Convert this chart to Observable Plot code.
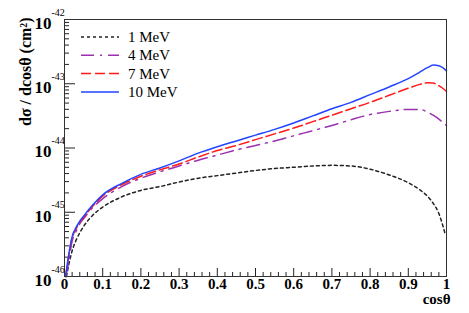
<!DOCTYPE html>
<html>
<head>
<meta charset="utf-8">
<script src="https://cdn.jsdelivr.net/npm/d3@7"></script>
<script src="https://cdn.jsdelivr.net/npm/@observablehq/plot@0.6"></script>
<style>
  html, body { margin: 0; padding: 0; background: #fff; }
  #wrap { position: relative; width: 469px; height: 313px; font-family: "Liberation Serif", serif; }
  #wrap svg text { font-family: "Liberation Serif", serif; }
  #legend { position: absolute; left: 0; top: 0; pointer-events: none; }
</style>
</head>
<body>
<div id="wrap"></div>
<script>
// cosθ sample points
const cosGrid = [0.003, 0.01, 0.02, 0.03, 0.04, 0.05, 0.075, 0.1, 0.15, 0.2, 0.25, 0.3, 0.35, 0.4, 0.45, 0.5, 0.55, 0.6, 0.65, 0.7, 0.75, 0.8, 0.85, 0.9, 0.93, 0.95, 0.965, 0.98, 0.99, 1.0];
const cosLow  = [0.005, 0.01, 0.02, 0.03, 0.04, 0.05, 0.075, 0.1, 0.15, 0.2, 0.25, 0.3, 0.35, 0.4, 0.45, 0.5, 0.55, 0.6, 0.65, 0.7, 0.75, 0.8, 0.85, 0.9, 0.93, 0.95, 0.965, 0.98, 0.99, 0.997];

// log10 of dσ/dcosθ (cm²)
const log10_10MeV = [-46, -45.7, -45.38, -45.24, -45.14, -45.06, -44.88, -44.73, -44.55, -44.41, -44.31, -44.2, -44.08, -43.98, -43.89, -43.8, -43.71, -43.61, -43.5, -43.39, -43.29, -43.17, -43.05, -42.92, -42.82, -42.75, -42.71, -42.72, -42.75, -42.8];
const log10_7MeV  = [-46, -45.72, -45.4, -45.26, -45.16, -45.08, -44.9, -44.75, -44.57, -44.44, -44.34, -44.25, -44.14, -44.04, -43.96, -43.87, -43.78, -43.69, -43.59, -43.49, -43.39, -43.29, -43.18, -43.07, -43.01, -42.985, -42.99, -43.03, -43.07, -43.12];
const log10_4MeV  = [-46, -45.8, -45.45, -45.3, -45.18, -45.1, -44.92, -44.79, -44.6, -44.47, -44.37, -44.28, -44.19, -44.11, -44.03, -43.96, -43.89, -43.81, -43.73, -43.65, -43.56, -43.48, -43.43, -43.4, -43.4, -43.44, -43.49, -43.55, -43.6, -43.65];
const log10_1MeV  = [-46, -45.85, -45.6, -45.44, -45.32, -45.22, -45.04, -44.92, -44.76, -44.66, -44.6, -44.53, -44.47, -44.43, -44.39, -44.35, -44.32, -44.3, -44.28, -44.27, -44.28, -44.33, -44.42, -44.54, -44.65, -44.75, -44.86, -45.02, -45.2, -45.35];

const seriesNames = ["1 MeV", "4 MeV", "7 MeV", "10 MeV"];
const yMajorExp = [-46, -45, -44, -43, -42];
const xTickLabels = ["0", "0.1", "0.2", "0.3", "0.4", "0.5", "0.6", "0.7", "0.8", "0.9", "1"];
const xTitle = "cosθ";
const yTitle = "dσ / dcosθ (cm²)";

const styles = {
  "1 MeV":  {stroke: "#222222", dash: "3,3"},
  "4 MeV":  {stroke: "#9b30b0", dash: "13,6,2,6"},
  "7 MeV":  {stroke: "#ff1a1a", dash: "10,4"},
  "10 MeV": {stroke: "#2244ff", dash: null}
};

function build(name, xs, logs) {
  return xs.map((c, i) => ({s: name, c, v: Math.pow(10, logs[i])}));
}
const data = {
  "1 MeV": build("1 MeV", cosLow, log10_1MeV),
  "4 MeV": build("4 MeV", cosGrid, log10_4MeV),
  "7 MeV": build("7 MeV", cosGrid, log10_7MeV),
  "10 MeV": build("10 MeV", cosGrid, log10_10MeV)
};

const yMajor = yMajorExp.map(e => Math.pow(10, e));
const yMinor = [];
for (const e of yMajorExp.slice(0, -1)) for (let k = 2; k <= 9; k++) yMinor.push(k * Math.pow(10, e));
const xMajor = xTickLabels.map(Number);
const xMinor = d3.range(0, 51).map(i => i / 50).filter(v => Math.round(v * 50) % 5 !== 0);

const font = "Liberation Serif";
const ink = "#222";

const lineMarks = seriesNames.map(n => Plot.line(data[n], {
  x: "c", y: "v", stroke: styles[n].stroke, strokeWidth: 1.5,
  strokeDasharray: styles[n].dash, curve: "monotone-x"
}));

const chart = Plot.plot({
  width: 469, height: 313,
  marginLeft: 64, marginRight: 23, marginTop: 19, marginBottom: 37,
  style: {background: "#fff", color: ink},
  x: {domain: [0, 1], axis: null},
  y: {type: "log", domain: [1e-46, 1e-42], axis: null},
  marks: [
    Plot.axisY({ticks: yMinor, tickSize: -5, tickFormat: () => "", label: null, stroke: ink}),
    Plot.axisY({ticks: yMajor, tickSize: -11, tickFormat: () => "", label: null, stroke: ink}),
    Plot.axisX({ticks: xMinor, tickSize: -4, tickFormat: () => "", label: null, stroke: ink}),
    Plot.axisX({ticks: xMajor, tickSize: -8, tickFormat: () => "", label: null, stroke: ink}),
    ...lineMarks,
    Plot.frame({stroke: "#333", strokeWidth: 1}),
    Plot.text(yMajor, {y: d => d, frameAnchor: "left", text: () => "10", dx: -13, dy: 4,
      textAnchor: "end", fontSize: 17, fontWeight: "bold", fill: "#000", fontFamily: font}),
    Plot.text(yMajor, {y: d => d, frameAnchor: "left", text: d => String(Math.round(Math.log10(d))), dx: -13, dy: -7,
      textAnchor: "start", fontSize: 10, fill: "#000", fontFamily: font}),
    Plot.text(xMajor, {x: d => d, frameAnchor: "bottom", text: (d, i) => xTickLabels[i], dy: 12,
      fontSize: 15, fontWeight: "bold", fill: "#000", fontFamily: font}),
    Plot.text([xTitle], {frameAnchor: "bottom-right", text: d => d, dx: 4, dy: 27, textAnchor: "end",
      fontSize: 15, fontWeight: "bold", fill: "#000", fontFamily: font}),
    Plot.text([yTitle], {frameAnchor: "top-left", text: d => d, rotate: -90, textAnchor: "end",
      dx: -45, dy: -2, fontSize: 16, fontWeight: "bold", fill: "#000", fontFamily: font})
  ]
});

const wrap = document.getElementById("wrap");
wrap.appendChild(chart);

// legend overlay
const ns = "http://www.w3.org/2000/svg";
const leg = document.createElementNS(ns, "svg");
leg.setAttribute("id", "legend");
leg.setAttribute("width", 469);
leg.setAttribute("height", 313);
seriesNames.forEach((n, i) => {
  const y = 37 + i * 18.3;
  const l = document.createElementNS(ns, "line");
  l.setAttribute("x1", 81); l.setAttribute("x2", 119);
  l.setAttribute("y1", y); l.setAttribute("y2", y);
  l.setAttribute("stroke", styles[n].stroke);
  l.setAttribute("stroke-width", 1.5);
  if (styles[n].dash) l.setAttribute("stroke-dasharray", styles[n].dash);
  leg.appendChild(l);
  const t = document.createElementNS(ns, "text");
  t.setAttribute("x", 128); t.setAttribute("y", y + 5);
  t.setAttribute("font-family", font);
  t.setAttribute("font-size", 15);
  t.setAttribute("fill", "#000");
  t.textContent = n;
  leg.appendChild(t);
});
wrap.appendChild(leg);
</script>
</body>
</html>
